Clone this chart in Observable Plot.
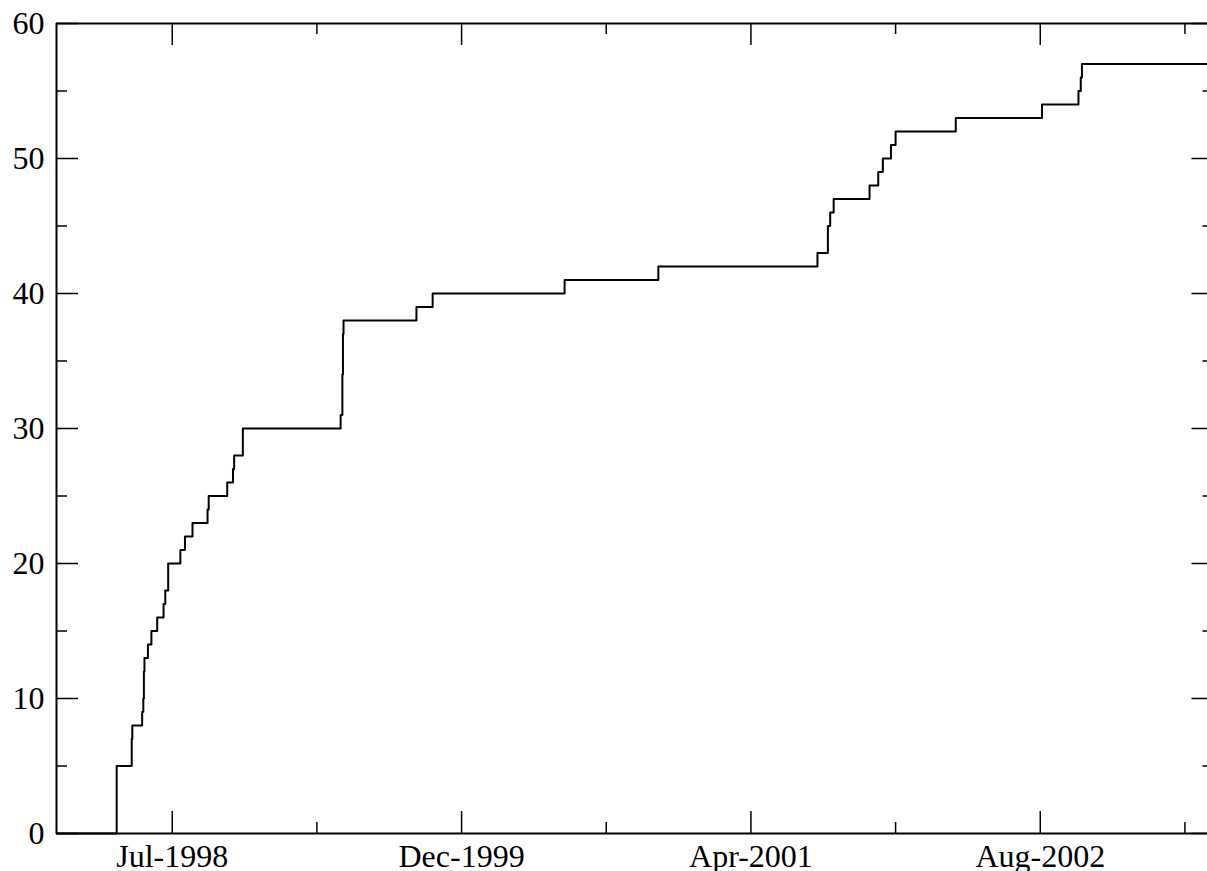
<!DOCTYPE html>
<html>
<head>
<meta charset="utf-8">
<script src="https://cdn.jsdelivr.net/npm/d3@7"></script>
<script src="https://cdn.jsdelivr.net/npm/@observablehq/plot@0.6"></script>
<style>
  html, body { margin: 0; padding: 0; overflow: hidden; background: #fff; }
  #chart svg { display: block; }
</style>
</head>
<body>
<div id="chart"></div>
<script>
// Event dates (step-after) and the cumulative count reached on each date
const dates = [
  "1998-01-01", "1998-04-15", "1998-05-11", "1998-05-12", "1998-05-29", "1998-05-31",
  "1998-06-01", "1998-06-02", "1998-06-08", "1998-06-14", "1998-06-24", "1998-07-05",
  "1998-07-08", "1998-07-13", "1998-08-03", "1998-08-11", "1998-08-24", "1998-09-19",
  "1998-09-21", "1998-10-23", "1998-11-02", "1998-11-04", "1998-11-19",
  "1999-05-07", "1999-05-10", "1999-05-11", "1999-05-12", "1999-09-15", "1999-10-13",
  "2000-05-28", "2000-11-06",
  "2001-08-08", "2001-08-26", "2001-08-30", "2001-09-05", "2001-11-06", "2001-11-21",
  "2001-11-29", "2001-12-13", "2001-12-21",
  "2002-04-04", "2002-08-31", "2002-11-02", "2002-11-06", "2002-11-08",
  "2003-06-13"
];
const counts = [
  0, 5, 7, 8, 9, 10,
  12, 13, 14, 15, 16, 17,
  18, 20, 21, 22, 23, 24,
  25, 26, 27, 28, 30,
  31, 34, 37, 38, 39, 40,
  41, 42,
  43, 45, 46, 47, 48, 49,
  50, 51, 52,
  53, 54, 55, 56, 57,
  57
];

// Axes
const xDomain = ["1998-01-01", "2003-06-13"];
const xMajorTicks = ["1998-07-20", "1999-12-02", "2001-04-15", "2002-08-28"];
const xMinorTicks = ["1999-03-27", "2000-08-08", "2001-12-21", "2003-05-05"];
const yDomain = [0, 60];
const yMajorTicks = [0, 10, 20, 30, 40, 50, 60];
const yMinorTicks = [5, 15, 25, 35, 45, 55];

const parse = d3.utcParse("%Y-%m-%d");
const data = dates.map((d, i) => ({date: parse(d), count: counts[i]}));
const xMaj = xMajorTicks.map(parse);
const xMin = xMinorTicks.map(parse);
const xStart = [parse(xDomain[0])];

const width = 1207, height = 871;
const marginLeft = 56, marginRight = 0, marginTop = 23, marginBottom = 38;
const plotW = width - marginLeft - marginRight;
const plotH = height - marginTop - marginBottom;
const majLen = 22, minLen = 11;
// right border sits just beyond the visible window, so right ticks show shorter
const rightCut = 6.5;
const font = "'Liberation Serif', 'Times New Roman', serif";
const tick = {stroke: "#000", strokeWidth: 1.5};

const chart = Plot.plot({
  width, height, marginLeft, marginRight, marginTop, marginBottom,
  style: {fontFamily: font, fontSize: "32px", color: "#000", background: "#fff"},
  x: {type: "utc", domain: xDomain.map(parse)},
  y: {domain: yDomain},
  marks: [
    Plot.axisX(xMaj, {anchor: "bottom", tickSize: 0, tickPadding: 11, tickFormat: d3.utcFormat("%b-%Y"), fontSize: 32, label: null}),
    Plot.axisY(yMajorTicks, {anchor: "left", tickSize: 0, tickPadding: 12, fontSize: 32, label: null}),
    // inward ticks: bottom and top
    Plot.ruleX(xMaj, {insetTop: plotH - majLen, ...tick}),
    Plot.ruleX(xMin, {insetTop: plotH - minLen, ...tick}),
    Plot.ruleX(xMaj, {insetBottom: plotH - majLen, ...tick}),
    Plot.ruleX(xMin, {insetBottom: plotH - minLen, ...tick}),
    // inward ticks: left and right
    Plot.ruleY(yMajorTicks, {insetRight: plotW - majLen, ...tick}),
    Plot.ruleY(yMinorTicks, {insetRight: plotW - minLen, ...tick}),
    Plot.ruleY(yMajorTicks, {insetLeft: plotW - (majLen - rightCut), ...tick}),
    Plot.ruleY(yMinorTicks, {insetLeft: plotW - (minLen - rightCut), ...tick}),
    Plot.lineY(data, {x: "date", y: "count", curve: "step-after", stroke: "#000", strokeWidth: 2}),
    // frame: left, top, bottom (right border lies outside the window)
    Plot.ruleY(yDomain, {stroke: "#000", strokeWidth: 2}),
    Plot.ruleX(xStart, {stroke: "#000", strokeWidth: 2})
  ]
});
document.getElementById("chart").appendChild(chart);
</script>
</body>
</html>
